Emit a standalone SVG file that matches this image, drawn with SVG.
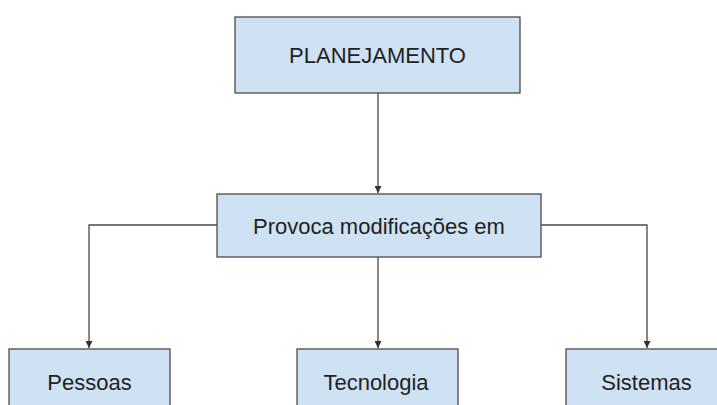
<svg xmlns="http://www.w3.org/2000/svg" width="717" height="405" viewBox="0 0 717 405">
<style>
.box{fill:#cfe2f3;stroke:#4a4a4a;stroke-width:1.3}
.lbl{font-family:"Liberation Sans",Arial,sans-serif;font-size:22px;fill:#222;text-anchor:middle}
.conn{fill:none;stroke:#4a4a4a;stroke-width:1.3}
</style>
<defs>
<marker id="arr" viewBox="0 0 10 10" refX="10" refY="5" markerWidth="7" markerHeight="7" markerUnits="userSpaceOnUse" orient="auto">
<path d="M0,0 L10,5 L0,10 z" fill="#333"/>
</marker>
</defs>
<rect width="717" height="405" fill="#fff"/>
<g id="connectors">
<path class="conn" d="M378,93 V193" marker-end="url(#arr)"/>
<path class="conn" d="M217,225 H89 V348" marker-end="url(#arr)"/>
<path class="conn" d="M378,257 V348" marker-end="url(#arr)"/>
<path class="conn" d="M541,225 H647 V348" marker-end="url(#arr)"/>
</g>
<g id="planejamento">
<rect class="box" x="235" y="17" width="285" height="76"/>
<text class="lbl" x="377.5" y="63">PLANEJAMENTO</text>
</g>
<g id="provoca">
<rect class="box" x="217" y="194" width="324" height="63"/>
<text class="lbl" x="379" y="234">Provoca modificações em</text>
</g>
<g id="pessoas">
<rect class="box" x="9" y="349" width="161" height="70"/>
<text class="lbl" x="89.5" y="390">Pessoas</text>
</g>
<g id="tecnologia">
<rect class="box" x="297" y="349" width="161" height="70"/>
<text class="lbl" x="376" y="390">Tecnologia</text>
</g>
<g id="sistemas">
<rect class="box" x="566" y="349" width="161" height="70"/>
<text class="lbl" x="646.5" y="390">Sistemas</text>
</g>
</svg>
